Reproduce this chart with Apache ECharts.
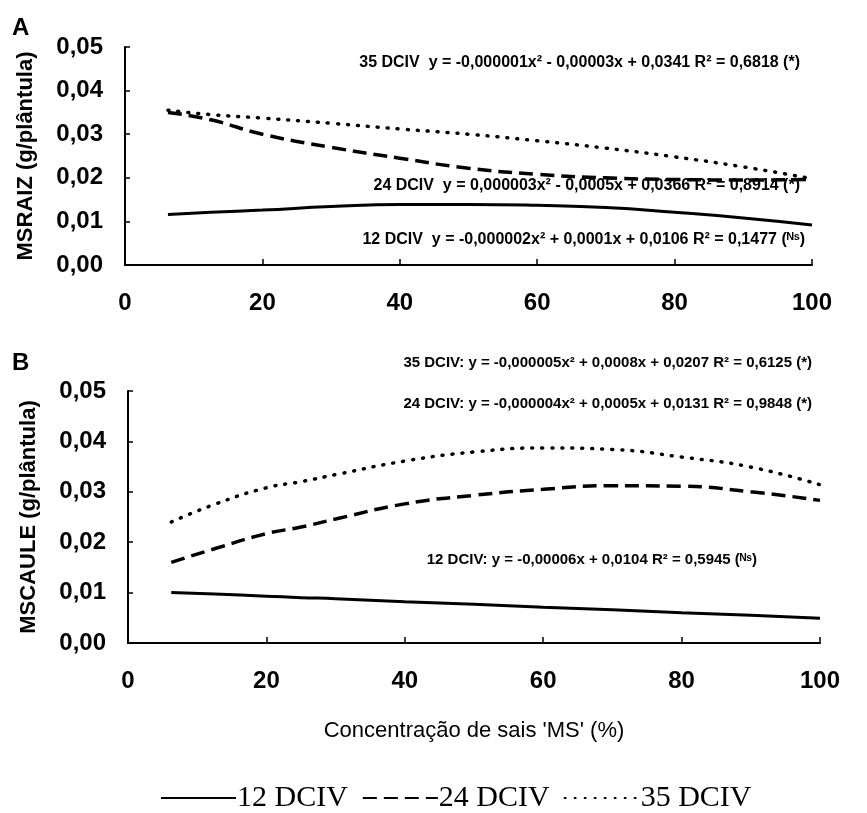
<!DOCTYPE html>
<html lang="pt">
<head>
    <meta charset="UTF-8">
    <title>MSRAIZ e MSCAULE</title>
    <script src="https://cdn.jsdelivr.net/npm/echarts@6/dist/echarts.min.js"></script>
    <style>
        body { margin: 0; background: #fff; }
    </style>
</head>
<body>
<div id="main" style="width: 867px;height:813px;"></div>
<script>
    // dados (x = concentração de sais MS, %)
    var xRaiz = [6.25, 12.5, 20, 30, 40, 50, 60, 70, 80, 90, 100];
    var raiz12 = [0.0116, 0.0121, 0.0126, 0.0134, 0.0139, 0.0139, 0.0137, 0.0132, 0.0121, 0.0108, 0.0092];
    var raiz24 = [0.0350, 0.0333, 0.0300, 0.0270, 0.0245, 0.0222, 0.0208, 0.0200, 0.0196, 0.0195, 0.0196];
    var raiz35 = [0.0355, 0.0345, 0.0337, 0.0325, 0.0312, 0.0300, 0.0285, 0.0268, 0.0248, 0.0225, 0.0198];

    var xCaule = [6.25, 12.5, 20, 25, 30, 40, 50, 60, 70, 80, 90, 100];
    var caule12 = [0.0100, 0.0097, 0.0093, 0.0090, 0.0088, 0.0082, 0.0077, 0.0071, 0.0066, 0.0060, 0.0055, 0.0049];
    var caule24 = [0.0160, 0.0187, 0.0217, 0.0230, 0.0246, 0.0276, 0.0293, 0.0305, 0.0312, 0.0311, 0.0300, 0.0283];
    var caule35 = [0.0240, 0.0275, 0.0308, 0.0320, 0.0334, 0.0361, 0.0379, 0.0387, 0.0384, 0.0369, 0.0349, 0.0314];

    var xTicks = [0, 20, 40, 60, 80, 100];
    var yTicks = [0, 0.01, 0.02, 0.03, 0.04, 0.05];
    var names = ['12 DCIV', '24 DCIV', '35 DCIV'];

    var eqRaiz = [
        '12 DCIV  y = -0,000002x² + 0,0001x + 0,0106 R² = 0,1477 (ᴺˢ)',
        '24 DCIV  y = 0,000003x² - 0,0005x + 0,0366 R² = 0,8914 (*)',
        '35 DCIV  y = -0,000001x² - 0,00003x + 0,0341 R² = 0,6818 (*)'
    ];
    var eqCaule = [
        '12 DCIV: y = -0,00006x + 0,0104 R² = 0,5945 (ᴺˢ)',
        '24 DCIV: y = -0,000004x² + 0,0005x + 0,0131 R² = 0,9848 (*)',
        '35 DCIV: y = -0,000005x² + 0,0008x + 0,0207 R² = 0,6125 (*)'
    ];

    var myChart = echarts.init(document.getElementById('main'));

    function pares(xs, ys) {
        return xs.map(function (x, i) { return [x, ys[i]]; });
    }
    var estilos = [
        { type: 'solid', width: 3, cap: 'butt' },
        { type: [14, 7], width: 3.5, cap: 'butt' },
        { type: [1, 9], width: 3.5, cap: 'round' }
    ];
    function serie(nome, k, idx, xs, ys) {
        return {
            name: nome, type: 'line', xAxisIndex: idx, yAxisIndex: idx,
            data: pares(xs, ys), smooth: true, symbol: 'none',
            lineStyle: { color: '#000', type: estilos[k].type, width: estilos[k].width, cap: estilos[k].cap },
            itemStyle: { color: '#000' }
        };
    }
    var tickFont = { color: '#000', fontFamily: 'Liberation Sans', fontWeight: 'bold', fontSize: 24 };

    function eixoX(idx) {
        return {
            type: 'value', gridIndex: idx, min: xTicks[0], max: xTicks[xTicks.length - 1], interval: 20,
            axisLine: { lineStyle: { color: '#000', width: 2 } },
            axisTick: { inside: true, length: 6, lineStyle: { color: '#000', width: 1.5 } },
            axisLabel: Object.assign({ margin: 26 }, tickFont),
            splitLine: { show: false }
        };
    }
    function eixoY(idx, nome) {
        return {
            type: 'value', gridIndex: idx, min: yTicks[0], max: yTicks[yTicks.length - 1], interval: 0.01,
            name: nome, nameLocation: 'middle', nameGap: 88,
            nameTextStyle: { color: '#000', fontFamily: 'Liberation Sans', fontWeight: 'bold', fontSize: 22 },
            axisLine: { lineStyle: { color: '#000', width: 2 } },
            axisTick: { inside: true, length: 5, lineStyle: { color: '#000', width: 1.5 } },
            axisLabel: Object.assign({ margin: 22, formatter: function (v) { return v.toFixed(2).replace('.', ','); } }, tickFont),
            splitLine: { show: false }
        };
    }
    var eqFontA = 'bold 16px "Liberation Sans"';
    var eqFontB = 'bold 15px "Liberation Sans"';
    function texto(t, x, y, font, align) {
        return {
            type: 'text', x: x, y: y,
            style: { text: t, font: font, fill: '#000', align: align || 'right', verticalAlign: 'middle' }
        };
    }

    var option = {
        backgroundColor: '#fff',
        animation: false,
        grid: [
            { left: 125, top: 47, width: 687, height: 218 },
            { left: 128, top: 391, width: 692, height: 252 }
        ],
        xAxis: [
            eixoX(0),
            Object.assign(eixoX(1), {
                name: "Concentração de sais 'MS' (%)", nameLocation: 'middle', nameGap: 77,
                nameTextStyle: { color: '#000', fontFamily: 'Liberation Sans', fontSize: 22 }
            })
        ],
        yAxis: [eixoY(0, 'MSRAIZ (g/plântula)'), eixoY(1, 'MSCAULE (g/plântula)')],
        legend: {
            data: names, top: 778, left: 155, itemWidth: 75, itemGap: 14,
            itemStyle: { color: 'rgba(0,0,0,0)', borderWidth: 0, opacity: 0 },
            lineStyle: { width: 2 },
            textStyle: { color: '#000', fontFamily: 'Liberation Serif', fontSize: 30, padding: [0, 0, 0, -4] }
        },
        graphic: [
            texto('A', 12, 28, 'bold 24px "Liberation Sans"', 'left'),
            texto('B', 12, 363, 'bold 24px "Liberation Sans"', 'left'),
            texto(eqRaiz[2], 800, 63, eqFontA),
            texto(eqRaiz[1], 800, 186, eqFontA),
            texto(eqRaiz[0], 805, 240, eqFontA),
            texto(eqCaule[2], 812, 363, eqFontB),
            texto(eqCaule[1], 812, 404, eqFontB),
            texto(eqCaule[0], 757, 560, eqFontB)
        ],
        series: [
            serie(names[0], 0, 0, xRaiz, raiz12),
            serie(names[1], 1, 0, xRaiz, raiz24),
            serie(names[2], 2, 0, xRaiz, raiz35),
            serie(names[0], 0, 1, xCaule, caule12),
            serie(names[1], 1, 1, xCaule, caule24),
            serie(names[2], 2, 1, xCaule, caule35)
        ]
    };
    myChart.setOption(option);
</script>
</body>
</html>
